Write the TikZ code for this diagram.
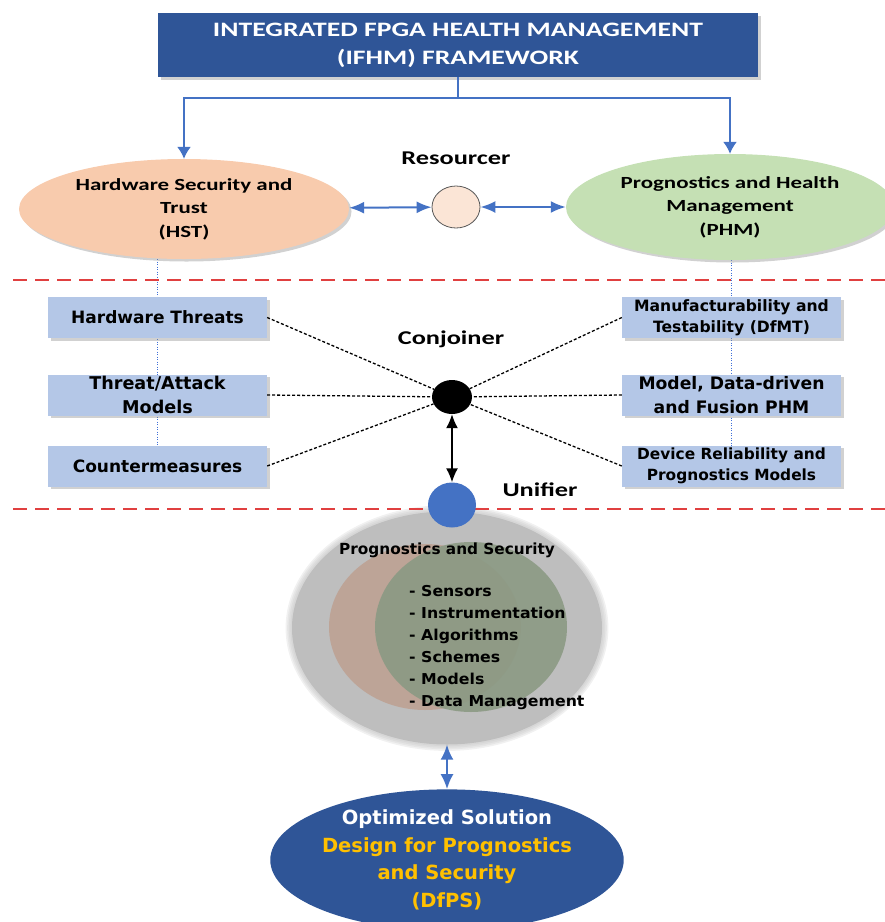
\documentclass[tikz,border=0pt]{standalone}
\usepackage{fontspec}
\setmainfont{DejaVu Sans}
\newfontfamily\calfont[FakeStretch=1.35]{Carlito}
\newfontfamily\listfont[FakeStretch=1.05]{DejaVu Sans}
\usetikzlibrary{shapes.geometric,shadows,arrows.meta}

\definecolor{navy}{HTML}{2F5597}
\definecolor{linkblue}{HTML}{4472C4}
\definecolor{dotblue}{HTML}{3F6FD8}
\definecolor{hstfill}{HTML}{F8CBAD}
\definecolor{phmfill}{HTML}{C5E0B4}
\definecolor{resfill}{HTML}{FBE5D6}
\definecolor{boxfill}{HTML}{B4C7E7}
\definecolor{sepred}{HTML}{E04040}
\definecolor{gold}{HTML}{FFC000}
\definecolor{ringgray}{HTML}{BEBEBE}
\definecolor{secpink}{HTML}{BDA497}
\definecolor{phmgreen}{HTML}{8B9A84}

\newcommand{\fsz}[2]{\fontsize{#1pt}{#2pt}\selectfont}

\pgfdeclarelayer{back}
\pgfsetlayers{back,main}

\tikzset{
  softshadow/.style={drop shadow={shadow xshift=2.5pt, shadow yshift=-2.5pt, fill=black!45, opacity=0.4}},
  titlebox/.style={rectangle, fill=navy, text=white, minimum width=600pt, minimum height=64pt,
    inner sep=0pt, align=center, font=\calfont\bfseries\fsz{20.5}{28}, softshadow},
  bigoval/.style={ellipse, inner sep=0pt, align=center, font=\calfont\bfseries\fsz{17}{23.5}, softshadow},
  itembox/.style={rectangle, fill=boxfill, minimum width=219pt, minimum height=41pt,
    inner sep=0pt, align=center, softshadow},
  steplabel/.style={font=\calfont\bfseries\fsz{19.5}{22}},
  bluelink/.style={draw=linkblue, line width=1.7pt},
  bluetwoway/.style={draw=linkblue, line width=2pt, {Latex[length=15pt,width=12pt]}-{Latex[length=15pt,width=12pt]}},
  spoke/.style={draw=black, line width=1.3pt, dash pattern=on 3pt off 2pt},
  bluedots/.style={draw=dotblue, line width=1.2pt, dash pattern=on 1.2pt off 1.3pt},
  separator/.style={draw=sepred, line width=1.6pt, dash pattern=on 14pt off 8pt},
}

\begin{document}
\begin{tikzpicture}[x=1pt,y=-1pt]
\useasboundingbox (0,0) rectangle (885,922);
\clip (0,0) rectangle (885,922);

% ---- framework title and the two pillars ----
\node[titlebox] (title) at (458,45) {INTEGRATED FPGA HEALTH MANAGEMENT\\(IFHM) FRAMEWORK};

\node[bigoval, fill=hstfill, minimum width=330pt, minimum height=100pt] (hst) at (184,209)
  {Hardware Security and\\Trust\\(HST)};
\node[bigoval, fill=phmfill, minimum width=328pt, minimum height=106pt] (phm) at (730,207)
  {Prognostics and Health\\Management\\(PHM)};

\coordinate (split) at (458,98);
\draw[bluelink, -{Latex[length=12pt,width=14pt]}] (title.south) -- (split) -| (hst.north);
\draw[bluelink, -{Latex[length=12pt,width=14pt]}] (title.south) -- (split) -| (phm.north);

% ---- resourcer ----
\node[steplabel] (reslabel) at (456,158) {Resourcer};
\node[ellipse, fill=resfill, draw=black!65, line width=0.8pt, minimum width=48pt,
  minimum height=42pt, inner sep=0pt] (res) at (456,207) {};
\draw[bluetwoway] (hst) -- (res);
\draw[bluetwoway] (res) -- (phm);

% ---- separators ----
\draw[separator] (13,280) -- (885,280);
\draw[separator] (13,509) -- (885,509);

% ---- conjoiner: security side ----
\node[itembox, font=\bfseries\fsz{17}{24}] (hwthreat) at (157.5,317.5) {Hardware Threats};
\node[itembox, font=\bfseries\fsz{17.6}{24}] (attack) at (157.5,395) {Threat/Attack\\Models};
\node[itembox, font=\bfseries\fsz{17}{24}] (counter) at (157.5,466) {Countermeasures};

% ---- conjoiner: prognostics side ----
\node[itembox, font=\bfseries\fsz{15.6}{21.5}] (dfmt) at (731.5,317.5) {Manufacturability and\\Testability (DfMT)};
\node[itembox, font=\bfseries\fsz{17.2}{24}] (fusion) at (731.5,395) {Model, Data-driven\\and Fusion PHM};
\node[itembox, font=\bfseries\fsz{15.4}{21.5}] (device) at (731.5,466) {Device Reliability and\\Prognostics Models};

\begin{pgfonlayer}{back}
  \draw[bluedots] (hwthreat.north |- hst.south) -- (counter.north);
  \draw[bluedots] (dfmt.north |- phm.south) -- (device.north);
\end{pgfonlayer}

\node[steplabel] (conjlabel) at (451,339) {Conjoiner};
\node[ellipse, fill=black, minimum width=40pt, minimum height=34pt, inner sep=0pt] (hub) at (452,397) {};

\draw[spoke] (hwthreat.east) -- (hub);
\draw[spoke] (attack.east) -- (hub);
\draw[spoke] (counter.east) -- (hub);
\draw[spoke] (dfmt.west) -- (hub);
\draw[spoke] (fusion.west) -- (hub);
\draw[spoke] (device.west) -- (hub);

% ---- unifier ----
\node[ellipse, fill=ringgray, minimum width=310pt, minimum height=233pt, inner sep=0pt] (ring) at (447,628) {};
\begin{pgfonlayer}{back}
  \foreach \k in {1,...,4}
    \fill[ringgray, opacity=0.22] (447,628) ellipse [x radius=155+1.6*\k, y radius=116.5+1.6*\k];
\end{pgfonlayer}
\node[ellipse, fill=secpink, minimum width=192pt, minimum height=166pt, inner sep=0pt] (secset) at (425,627) {};
\node[ellipse, fill=phmgreen, fill opacity=0.9, minimum width=192pt, minimum height=170pt, inner sep=0pt] (phmset) at (471,627) {};

\node[ellipse, fill=linkblue, minimum width=48pt, minimum height=45pt, inner sep=0pt] (unify) at (452,505) {};
\node[steplabel] (unilabel) at (540,490) {Unifier};
\draw[line width=1.5pt, {Latex[length=14pt,width=12pt]}-{Latex[length=14pt,width=12pt]}] (hub) -- (unify);

\node[font=\bfseries\fsz{15.3}{18}] (pslabel) at (447,550) {Prognostics and Security};
\node[anchor=west, align=left, inner sep=0pt, font=\listfont\bfseries\fsz{15}{22}] (pslist) at (409,648)
  {- Sensors\\- Instrumentation\\- Algorithms\\- Schemes\\- Models\\- Data Management};

% ---- optimized solution ----
\node[ellipse, fill=navy, minimum width=326pt, minimum height=134pt, inner sep=0pt,
  align=center, font=\bfseries\fsz{19.5}{27.5}] (dfps) at (447,860)
  {\textcolor{white}{Optimized Solution}\\\textcolor{gold}{Design for Prognostics}\\
   \textcolor{gold}{and Security}\\\textcolor{gold}{(DfPS)}};
\draw[draw=linkblue, line width=2pt, {Latex[length=15pt,width=13pt]}-{Latex[length=15pt,width=13pt]}] (ring.south) -- (dfps.north);
\end{tikzpicture}
\end{document}
